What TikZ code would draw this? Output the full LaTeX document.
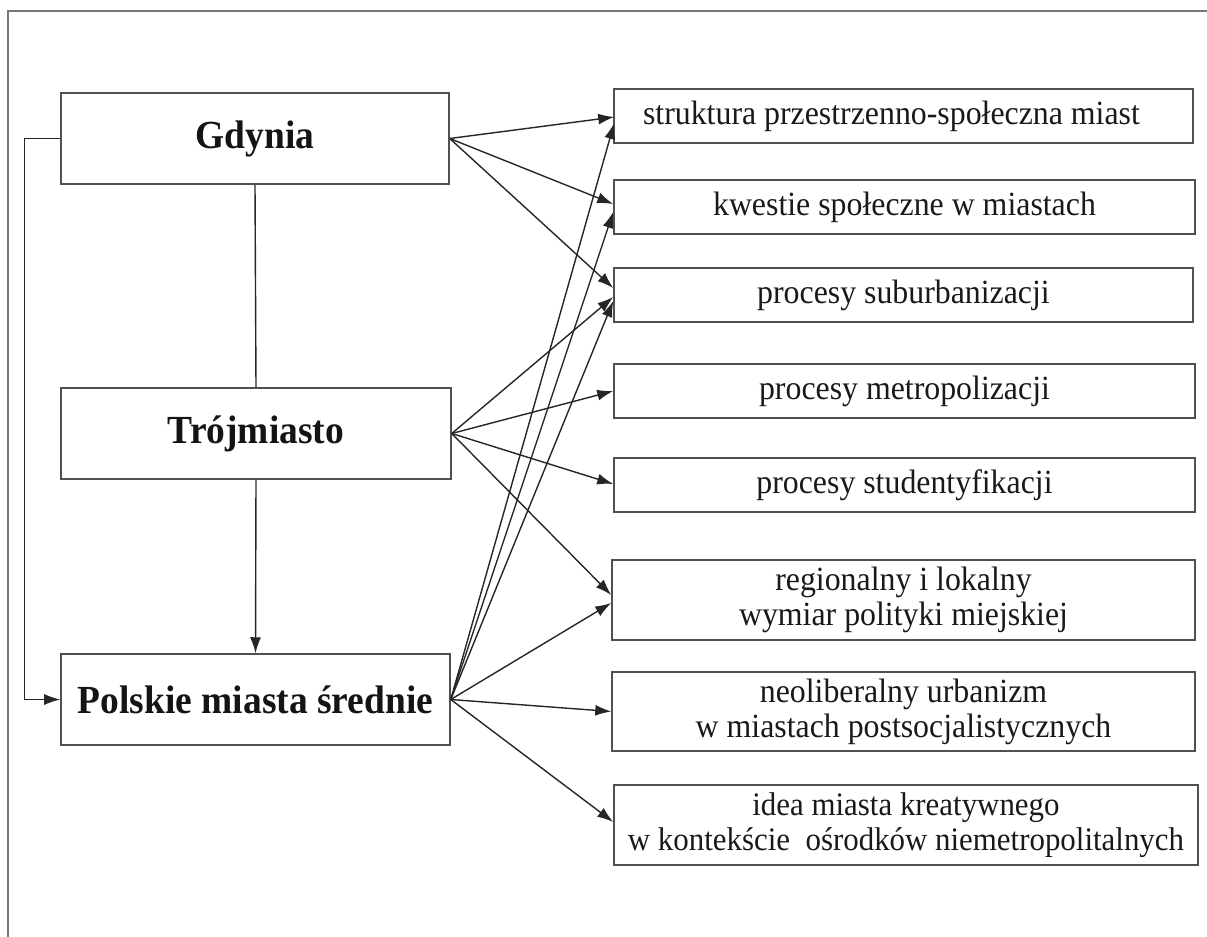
\documentclass[tikz,border=0pt]{standalone}
\usepackage{fontspec}
\setmainfont{Liberation Serif}[FakeStretch=0.94]
\usetikzlibrary{arrows.meta,calc}
\definecolor{boxgray}{HTML}{505050}
\definecolor{linegray}{HTML}{262626}
\definecolor{framegray}{HTML}{777777}
\begin{document}
\begin{tikzpicture}[x=1bp,y=-1bp,
  lbox/.style={draw=boxgray, line width=1.5bp, inner sep=0pt, minimum height=91bp,
     font={\fontsize{40}{42}\selectfont\bfseries}, text=black!92},
  rbox/.style={draw=boxgray, line width=1.5bp, inner sep=0pt, align=center,
     font={\fontsize{34}{35}\selectfont}, text=black!90},
  conn/.style={draw=linegray, line width=1.4bp},
  arr/.style={conn, -{Latex[length=16bp,width=11bp]}}
]
\useasboundingbox (0,0) rectangle (1207,937);
\draw[framegray, line width=2.6bp] (8,937) -- (8,11) -- (1207,11);

% left boxes
\node[lbox, minimum width=388bp] (G) at (255,138.5) {Gdynia};
\node[lbox, minimum width=390bp] (T) at (256,433.5) {Trójmiasto};
\node[lbox, minimum width=389bp] (P) at (255.5,699.5) {Polskie miasta średnie};

% right boxes
\node[rbox, minimum width=579bp, minimum height=54bp] (R1) at (903.5,116) {struktura przestrzenno-społeczna miast\hspace*{24bp}};
\node[rbox, minimum width=581bp, minimum height=54bp] (R2) at (904.5,207) {kwestie społeczne w miastach};
\node[rbox, minimum width=579bp, minimum height=54bp] (R3) at (903.5,295) {procesy suburbanizacji};
\node[rbox, minimum width=581bp, minimum height=54bp] (R4) at (904.5,391) {procesy metropolizacji};
\node[rbox, minimum width=581bp, minimum height=54bp] (R5) at (904.5,485) {procesy studentyfikacji};
\node[rbox, minimum width=583bp, minimum height=80bp] (R6) at (903.5,600) {regionalny i lokalny\\ wymiar polityki miejskiej};
\node[rbox, minimum width=583bp, minimum height=79bp] (R7) at (903.5,711.5) {neoliberalny urbanizm\\ w miastach postsocjalistycznych};
\node[rbox, minimum width=584bp, minimum height=80bp, font={\fontsize{33}{35}\selectfont}] (R8) at (906,825) {idea miasta kreatywnego\\ w kontekście\ \ ośrodków niemetropolitalnych};

% vertical links
\draw[conn] (G.south) -- (T.north);
\draw[arr] (T.south) -- (P.north);
\draw[arr] (G.west) -- ++(-36,0) |- (P.west);

% from Gdynia
\draw[arr] (G.east) -- ($(R1.west)+(1,1)$);
\draw[arr] (G.east) -- ($(R2.west)+(0,-3)$);
\draw[arr] (G.east) -- ($(R3.west)+(0,-7)$);

% from Trójmiasto
\draw[arr] (T.east) -- ($(R3.west)+(0,2)$);
\draw[arr] (T.east) -- (R4.west);
\draw[arr] (T.east) -- ($(R5.west)+(0,-1)$);
\draw[arr] (T.east) -- ($(R6.west)+(0,-5)$);

% from Polskie miasta średnie
\draw[arr] (P.east) -- ($(R1.west)+(1,7)$);
\draw[arr] (P.east) -- ($(R2.west)+(0,5)$);
\draw[arr] (P.east) -- ($(R3.west)+(0,6)$);
\draw[arr] (P.east) -- ($(R6.west)+(0,3)$);
\draw[arr] (P.east) -- (R7.west);
\draw[arr] (P.east) -- ($(R8.west)+(0,-3)$);
\end{tikzpicture}
\end{document}
